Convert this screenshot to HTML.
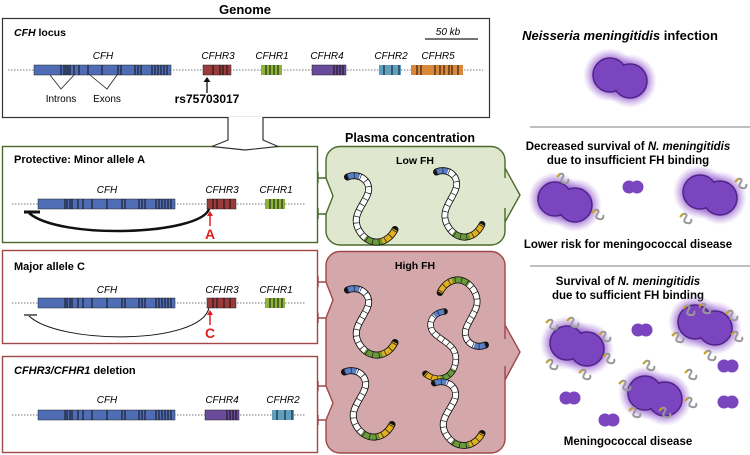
<!DOCTYPE html>
<html><head><meta charset="utf-8"><style>
html,body{margin:0;padding:0;background:#fff;}
svg{display:block;font-family:"Liberation Sans",sans-serif;}
.b{font-weight:bold;}
.i{font-style:italic;}
</style></head><body>
<svg width="750" height="455" viewBox="0 0 750 455" xmlns="http://www.w3.org/2000/svg">
<defs>
<radialGradient id="halo"><stop offset="0.55" stop-color="#8a4ec8" stop-opacity="0.9"/><stop offset="1" stop-color="#b58ee0" stop-opacity="0"/></radialGradient>
<g id="chain">
 <path d="M38,0 C28,-4 18,4 22,14 S36,32 28,44 S6,54 0,42" fill="none" stroke="#111" stroke-width="5.6" stroke-linecap="round"/>
 <path d="M38,0 C28,-4 18,4 22,14 S36,32 28,44 S6,54 0,42" pathLength="100" fill="none" stroke="#fff" stroke-width="4.2" stroke-dasharray="60 200" stroke-dashoffset="-10"/>
 <path d="M38,0 C28,-4 18,4 22,14 S36,32 28,44 S6,54 0,42" pathLength="100" fill="none" stroke="#5a80c8" stroke-width="4.2" stroke-dasharray="10 200"/>
 <path d="M38,0 C28,-4 18,4 22,14 S36,32 28,44 S6,54 0,42" pathLength="100" fill="none" stroke="#6a9a3a" stroke-width="4.2" stroke-dasharray="15 200" stroke-dashoffset="-70"/>
 <path d="M38,0 C28,-4 18,4 22,14 S36,32 28,44 S6,54 0,42" pathLength="100" fill="none" stroke="#e0b020" stroke-width="4.2" stroke-dasharray="15 200" stroke-dashoffset="-85"/>
 <path d="M38,0 C28,-4 18,4 22,14 S36,32 28,44 S6,54 0,42" fill="none" stroke="#222" stroke-width="4.4" stroke-dasharray="0.6 4.6"/>
</g>
<g id="bac">
 <circle cx="-10" cy="-3" r="27" fill="url(#halo)"/><circle cx="10" cy="3" r="27" fill="url(#halo)"/>
 <circle cx="-10" cy="-3" r="17" fill="#7b45c0" stroke="#4e2488" stroke-width="1.5"/>
 <circle cx="10" cy="3" r="17" fill="#7b45c0" stroke="#4e2488" stroke-width="1.5"/>
 <circle cx="-10" cy="-3" r="16" fill="#7b45c0"/>
</g>
<g id="sm"><circle cx="-4" cy="0" r="6.5" fill="#7b45c0"/><circle cx="4" cy="0" r="6.5" fill="#7b45c0"/></g>
<g id="fh"><path d="M0,0 c3,-4 7,-2 5,1 s-3,5 1,6 s5,-2 4,-4" fill="none" stroke="#999" stroke-width="2"/><path d="M-1,1 l3,-3" stroke="#c8a020" stroke-width="2"/></g>
</defs>

<!-- Genome -->
<text x="245" y="14" text-anchor="middle" class="b" font-size="13">Genome</text>
<rect x="2.5" y="18.5" width="487" height="99" fill="#fff" stroke="#333" stroke-width="1.2"/>
<text x="14" y="36" font-size="10.5" class="b"><tspan class="i">CFH</tspan> locus</text>
<line x1="425" y1="39" x2="478" y2="39" stroke="#222" stroke-width="1.2"/>
<text x="448" y="35" class="i" font-size="10" text-anchor="middle">50 kb</text>
<line x1="8" y1="70" x2="483" y2="70" stroke="#777" stroke-dasharray="1.5 1.5"/>
<rect x="34" y="65" width="137" height="10" fill="#4e6db5" stroke="#222" stroke-width=".5"/>
<g stroke="#111" stroke-width="1"><path d="M61,65v10M64,65v10M66,65v10M68,65v10M70,65v10M74,65v10M79,65v10M88,65v10M102,65v10M118,65v10M121,65v10M135,65v10M138,65v10M141,65v10M152,65v10M155,65v10M158,65v10M161,65v10M164,65v10M167,65v10"/></g>
<rect x="203" y="65" width="28" height="10" fill="#9b3a3a" stroke="#222" stroke-width=".5"/>
<path d="M213,65v10M220,65v10M223,65v10M227,65v10" stroke="#111"/>
<rect x="261" y="65" width="21" height="10" fill="#8db53c"/><path d="M266,65v10M270,65v10M274,65v10M278,65v10" stroke="#111"/>
<rect x="312" y="65" width="34" height="10" fill="#6a4a9a" stroke="#222" stroke-width=".5"/><path d="M334,65v10M337,65v10M340,65v10M343,65v10" stroke="#111"/>
<rect x="379" y="65" width="22" height="10" fill="#5fa0c0"/><path d="M384,65v10M392,65v10M399,65v10" stroke="#111"/>
<rect x="411" y="65" width="52" height="10" fill="#d9883a"/><path d="M417,65v10M421,65v10M435,65v10M440,65v10M444,65v10M449,65v10M452,65v10M458,65v10" stroke="#111"/>
<g class="i" font-size="10" text-anchor="middle">
<text x="103" y="59">CFH</text><text x="218" y="59">CFHR3</text><text x="272" y="59">CFHR1</text><text x="327" y="59">CFHR4</text><text x="391" y="59">CFHR2</text><text x="438" y="59">CFHR5</text></g>
<path d="M50,75 L61,89 L74,75 M90,75 L107,89 L117,75" fill="none" stroke="#222" stroke-width=".8"/>
<text x="61" y="102" font-size="10" text-anchor="middle">Introns</text><text x="107" y="102" font-size="10" text-anchor="middle">Exons</text>
<path d="M207,93V80" stroke="#111" stroke-width="1.3"/><path d="M203.5,82 L207,77 L210.5,82Z" fill="#111"/>
<text x="207" y="103" class="b" font-size="12" text-anchor="middle">rs75703017</text>

<!-- box2 -->
<rect x="2.5" y="146.5" width="315" height="96" fill="none" stroke="#4a6a2a" stroke-width="1.4"/>
<path d="M228,117V140L212,146.5L245,150L278,146.5L263,140V117" fill="#fff" stroke="#333" stroke-width="1.2"/>
<text x="14" y="163" class="b" font-size="11">Protective:  Minor allele A</text>
<g id="row">
<line x1="12" y1="204" x2="305" y2="204" stroke="#777" stroke-dasharray="1.5 1.5"/>
<rect x="38" y="199" width="137" height="10" fill="#4e6db5" stroke="#222" stroke-width=".5"/>
<path d="M65,199v10M67,199v10M70,199v10M72,199v10M78,199v10M83,199v10M92,199v10M107,199v10M122,199v10M125,199v10M139,199v10M142,199v10M145,199v10M156,199v10M159,199v10M162,199v10M165,199v10M168,199v10M171,199v10" stroke="#111"/>
</g>
<rect x="207" y="199" width="29" height="10" fill="#9b3a3a" stroke="#222" stroke-width=".5"/><path d="M213,199v10M217,199v10M224,199v10M230,199v10" stroke="#111"/>
<rect x="265" y="199" width="20" height="10" fill="#8db53c"/><path d="M270,199v10M274,199v10M278,199v10M282,199v10" stroke="#111"/>
<g class="i" font-size="10" text-anchor="middle"><text x="107" y="193">CFH</text><text x="222" y="193">CFHR3</text><text x="276" y="193">CFHR1</text></g>
<path d="M209,209 C200,235 60,240 29,213" fill="none" stroke="#111" stroke-width="2.5"/>
<path d="M24,212H40" stroke="#111" stroke-width="3"/>
<path d="M210,226V214" stroke="#e02020" stroke-width="1.5"/><path d="M207,216L210,211L213,216Z" fill="#e02020"/>
<text x="210" y="239" text-anchor="middle" class="b" font-size="14" fill="#e02020">A</text>

<!-- box3 -->
<rect x="2.5" y="250.5" width="315" height="93" fill="none" stroke="#a04848" stroke-width="1.4"/>
<text x="14" y="270" class="b" font-size="11">Major allele C</text>
<use href="#row" y="99"/>
<rect x="207" y="298" width="29" height="10" fill="#9b3a3a" stroke="#222" stroke-width=".5"/><path d="M213,298v10M217,298v10M224,298v10M230,298v10" stroke="#111"/>
<rect x="265" y="298" width="20" height="10" fill="#8db53c"/><path d="M270,298v10M274,298v10M278,298v10M282,298v10" stroke="#111"/>
<g class="i" font-size="10" text-anchor="middle"><text x="107" y="293">CFH</text><text x="222" y="293">CFHR3</text><text x="276" y="293">CFHR1</text></g>
<path d="M209,308 C200,345 60,345 29,316" fill="none" stroke="#111" stroke-width="1"/>
<path d="M24,315H37" stroke="#111" stroke-width="1.2"/>
<path d="M210,325V313" stroke="#e02020" stroke-width="1.5"/><path d="M207,315L210,310L213,315Z" fill="#e02020"/>
<text x="210" y="338" text-anchor="middle" class="b" font-size="14" fill="#e02020">C</text>

<!-- box4 -->
<rect x="2.5" y="356.5" width="315" height="96" fill="none" stroke="#a04848" stroke-width="1.4"/>
<text x="14" y="374" class="b" font-size="11"><tspan class="i">CFHR3/CFHR1</tspan> deletion</text>
<use href="#row" y="211"/>
<rect x="205" y="410" width="34" height="10" fill="#6a4a9a" stroke="#222" stroke-width=".5"/><path d="M227,410v10M230,410v10M233,410v10M236,410v10" stroke="#111"/>
<rect x="272" y="410" width="22" height="10" fill="#5fa0c0"/><path d="M277,410v10M285,410v10M292,410v10" stroke="#111"/>
<g class="i" font-size="10" text-anchor="middle"><text x="107" y="403">CFH</text><text x="222" y="403">CFHR4</text><text x="283" y="403">CFHR2</text></g>

<!-- plasma -->
<text x="410" y="142" text-anchor="middle" class="b" font-size="12.5">Plasma concentration</text>
<path d="M340,146.5H491a14,14 0 0 1 14,14V178H505V168L520,195L505,222V208H505V231a14,14 0 0 1 -14,14H340a14,14 0 0 1 -14,-14V214L333,196L326,178V160.5a14,14 0 0 1 14,-14Z" fill="#dfe8cf" stroke="#4a6a2a" stroke-width="1.4"/>
<path d="M318,178H326M318,214H326M318,172V183M318,208V219" stroke="#4a6a2a" stroke-width="1.4"/>
<text x="415" y="164" text-anchor="middle" class="b" font-size="10.5">Low FH</text>
<use href="#chain" transform="translate(395,177) scale(-1.25,1.25)"/>
<use href="#chain" transform="translate(482,172) scale(-1.2,1.25)"/>

<path d="M340,251.5H491a14,14 0 0 1 14,14V339L505,339V325L520,352L505,380V366H505V439a14,14 0 0 1 -14,14H340a14,14 0 0 1 -14,-14V420L333,403L326,386V318L333,300L326,282V265.5a14,14 0 0 1 14,-14Z" fill="#d4a8aa" stroke="#a04848" stroke-width="1.4"/>
<path d="M318,282H326M318,318H326M318,386H326M318,420H326M318,276V287M318,313V323M318,381V391M318,415V425" stroke="#a04848" stroke-width="1.4"/>
<text x="415" y="269" text-anchor="middle" class="b" font-size="10.5">High FH</text>
<use href="#chain" transform="translate(395,290) scale(-1.25,1.25)"/>
<use href="#chain" transform="translate(440,345) scale(1.2,-1.25)"/>
<use href="#chain" transform="translate(405,330) rotate(-25) scale(1.15)"/>
<use href="#chain" transform="translate(392,372) scale(-1.25,1.25)"/>
<use href="#chain" transform="translate(482,383) scale(-1.25,1.2)"/>

<!-- right panel -->
<text x="620" y="40" text-anchor="middle" class="b" font-size="13"><tspan class="i">Neisseria meningitidis</tspan> infection</text>
<use href="#bac" x="620" y="78"/>
<line x1="530" y1="127" x2="750" y2="127" stroke="#aaa" stroke-width="1.5"/>
<text x="628" y="150" text-anchor="middle" class="b" font-size="11.5">Decreased survival of <tspan class="i">N. meningitidis</tspan></text>
<text x="628" y="164" text-anchor="middle" class="b" font-size="11.5">due to insufficient FH binding</text>
<use href="#bac" x="565" y="202"/>
<use href="#sm" x="633" y="187"/>
<use href="#bac" x="710" y="195"/>
<use href="#fh" x="558" y="176"/><use href="#fh" x="593" y="212"/><use href="#fh" x="736" y="181"/><use href="#fh" x="681" y="216"/>
<text x="628" y="248" text-anchor="middle" class="b" font-size="11.5">Lower risk for meningococcal disease</text>
<line x1="530" y1="266" x2="750" y2="266" stroke="#aaa" stroke-width="1.5"/>
<text x="628" y="285" text-anchor="middle" class="b" font-size="11.5">Survival of <tspan class="i">N. meningitidis</tspan></text>
<text x="628" y="299" text-anchor="middle" class="b" font-size="11.5">due to sufficient FH binding</text>
<use href="#bac" x="577" y="346"/>
<use href="#bac" x="705" y="325"/>
<use href="#bac" x="655" y="396"/>
<use href="#sm" x="642" y="330"/><use href="#sm" x="728" y="366"/><use href="#sm" x="570" y="398"/><use href="#sm" x="609" y="420"/><use href="#sm" x="728" y="402"/>
<use href="#fh" x="547" y="322"/><use href="#fh" x="568" y="320"/><use href="#fh" x="600" y="334"/><use href="#fh" x="547" y="362"/><use href="#fh" x="580" y="372"/><use href="#fh" x="604" y="356"/>
<use href="#fh" x="673" y="335"/><use href="#fh" x="684" y="308"/><use href="#fh" x="700" y="306"/><use href="#fh" x="727" y="313"/><use href="#fh" x="732" y="334"/><use href="#fh" x="705" y="353"/>
<use href="#fh" x="620" y="383"/><use href="#fh" x="644" y="363"/><use href="#fh" x="686" y="372"/><use href="#fh" x="686" y="400"/><use href="#fh" x="660" y="410"/><use href="#fh" x="630" y="410"/>
<text x="628" y="445" text-anchor="middle" class="b" font-size="11.5">Meningococcal disease</text>
</svg>
</body></html>
